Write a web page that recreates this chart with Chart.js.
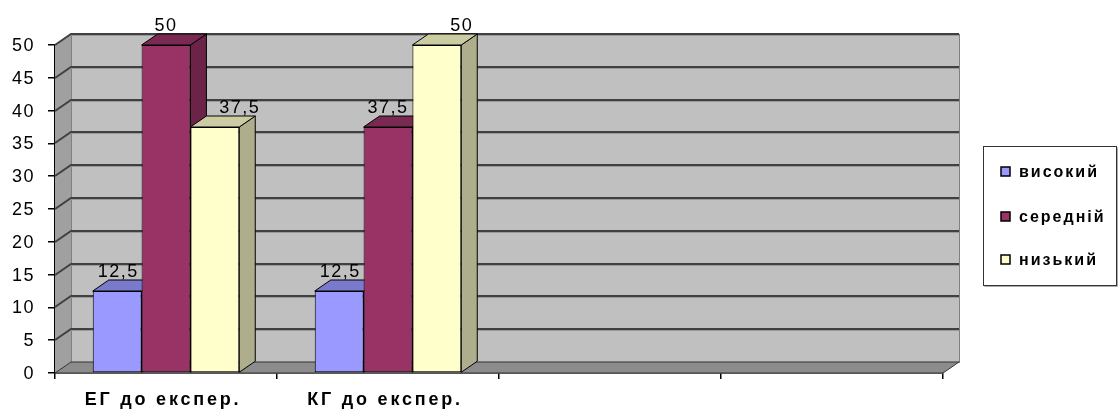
<!DOCTYPE html>
<html>
<head>
<meta charset="utf-8">
<script src="https://cdn.jsdelivr.net/npm/chart.js@4"></script>
<style>
html,body{margin:0;padding:0;background:#fff;}
#wrap{position:relative;width:1118px;height:410px;}
</style>
</head>
<body>
<div id="wrap"><canvas id="c" width="1118" height="410"></canvas></div>
<script>
const categories = ["ЕГ до експер.", "КГ до експер.", "", ""];
const seriesNames = ["високий", "середній", "низький"];
const vysokyi = [12.5, 12.5, null, null];
const serednii = [50, 37.5, null, null];
const nyzkyi = [37.5, 50, null, null];
const yTicks = [0, 5, 10, 15, 20, 25, 30, 35, 40, 45, 50];

const frontColors = ["#9999FF", "#993366", "#FFFFCC"];
const topColors = ["#7A7ACC", "#7A2952", "#CCCCA3"];
const sideColors = ["#6B6BB3", "#6B2447", "#AEAE8C"];
const labelShiftX = [1, 0, 25];

const DX = 16, DY = 11;
const FONT = "Arial, 'Liberation Sans', sans-serif";

const threeD = {
  id: 'threeD',
  beforeDatasetsDraw(chart) {
    const ctx = chart.ctx;
    const a = chart.chartArea;
    const y = chart.scales.y;
    ctx.save();
    ctx.fillStyle = "#A0A0A0";
    ctx.beginPath();
    ctx.moveTo(a.left, a.top); ctx.lineTo(a.left + DX, a.top - DY);
    ctx.lineTo(a.left + DX, a.bottom - DY); ctx.lineTo(a.left, a.bottom);
    ctx.closePath(); ctx.fill();
    ctx.fillStyle = "#C0C0C0";
    ctx.fillRect(a.left + DX, a.top - DY, a.right - a.left, a.bottom - a.top);
    ctx.strokeStyle = "#808080"; ctx.lineWidth = 1;
    ctx.strokeRect(a.left + DX + 0.5, a.top - DY + 0.5, a.right - a.left, a.bottom - a.top);
    ctx.fillStyle = "#8C8C8C";
    ctx.beginPath();
    ctx.moveTo(a.left, a.bottom); ctx.lineTo(a.left + DX, a.bottom - DY);
    ctx.lineTo(a.right + DX, a.bottom - DY); ctx.lineTo(a.right, a.bottom);
    ctx.closePath(); ctx.fill();
    ctx.strokeStyle = "#333"; ctx.stroke();
    yTicks.forEach(v => {
      if (v === 0) return;
      const py = Math.round(y.getPixelForValue(v));
      ctx.strokeStyle = "#404040"; ctx.lineWidth = 2;
      ctx.beginPath();
      ctx.moveTo(a.left, py);
      ctx.lineTo(a.left + DX, py - DY);
      ctx.lineTo(a.right + DX, py - DY);
      ctx.stroke();
      ctx.strokeStyle = "#9a9a9a"; ctx.lineWidth = 1;
      ctx.beginPath();
      ctx.moveTo(a.left + DX, py - DY + 1.5);
      ctx.lineTo(a.right + DX, py - DY + 1.5);
      ctx.stroke();
    });
    const n = chart.data.labels.length;
    for (let i = 0; i < n; i++) {
      chart.data.datasets.forEach((ds, di) => {
        const el = chart.getDatasetMeta(di).data[i];
        if (!el || ds.data[i] == null) return;
        const l = el.x - el.width / 2, r = el.x + el.width / 2, t = el.y, b = el.base;
        ctx.lineWidth = 1; ctx.strokeStyle = "#000";
        ctx.fillStyle = sideColors[di];
        ctx.beginPath();
        ctx.moveTo(r, t); ctx.lineTo(r + DX, t - DY); ctx.lineTo(r + DX, b - DY); ctx.lineTo(r, b);
        ctx.closePath(); ctx.fill(); ctx.stroke();
        ctx.fillStyle = topColors[di];
        ctx.beginPath();
        ctx.moveTo(l, t); ctx.lineTo(l + DX, t - DY); ctx.lineTo(r + DX, t - DY); ctx.lineTo(r, t);
        ctx.closePath(); ctx.fill(); ctx.stroke();
      });
    }
    ctx.restore();
  },
  afterDatasetsDraw(chart) {
    const ctx = chart.ctx;
    const xs = chart.scales.x, ys = chart.scales.y;
    ctx.save();
    ctx.fillStyle = "#000";
    ctx.font = "18px " + FONT;
    ctx.letterSpacing = "1.5px";
    ctx.textAlign = "center"; ctx.textBaseline = "middle";
    chart.data.datasets.forEach((ds, di) => {
      chart.getDatasetMeta(di).data.forEach((el, i) => {
        const v = ds.data[i];
        if (v == null) return;
        ctx.fillText(String(v).replace('.', ','), el.x + labelShiftX[di], el.y - DY - 8);
      });
    });
    ctx.font = "18px " + FONT;
    ctx.letterSpacing = "1.5px";
    ctx.textAlign = "right";
    yTicks.forEach(v => {
      ctx.fillText(String(v), 35, ys.getPixelForValue(v) + 1);
    });
    ctx.font = "bold 18px " + FONT;
    ctx.letterSpacing = "2.8px";
    ctx.textAlign = "center";
    categories.forEach((c, i) => {
      if (!c) return;
      ctx.fillText(c, xs.getPixelForValue(i) - 3, 400);
    });
    ctx.letterSpacing = "0px";
    const lx = 983, ly = 146, lw = 133, lh = 139;
    ctx.fillStyle = "#fff";
    ctx.fillRect(lx, ly, lw, lh);
    ctx.strokeStyle = "#333"; ctx.lineWidth = 1;
    ctx.strokeRect(lx + 0.5, ly + 0.5, lw, lh);
    ctx.strokeStyle = "#aaa";
    ctx.beginPath(); ctx.moveTo(lx + 1.5, ly + lh + 1.5); ctx.lineTo(lx + lw + 1.5, ly + lh + 1.5); ctx.lineTo(lx + lw + 1.5, ly + 1.5); ctx.stroke();
    const ly3 = [172, 217, 260];
    ctx.font = "bold 16px " + FONT;
    ctx.letterSpacing = "2px";
    ctx.textAlign = "left";
    seriesNames.forEach((name, k) => {
      ctx.fillStyle = frontColors[k];
      ctx.fillRect(1001, ly3[k] - 5, 9, 9);
      ctx.strokeStyle = "#000"; ctx.lineWidth = 1.5;
      ctx.strokeRect(1001, ly3[k] - 5, 9, 9);
      ctx.fillStyle = "#000";
      ctx.fillText(name, 1019, ly3[k] + 1);
    });
    ctx.restore();
  }
};

const data = {
  labels: categories,
  datasets: [
    { label: seriesNames[0], data: vysokyi, backgroundColor: frontColors[0] },
    { label: seriesNames[1], data: serednii, backgroundColor: frontColors[1] },
    { label: seriesNames[2], data: nyzkyi, backgroundColor: frontColors[2] }
  ].map(d => Object.assign(d, { borderColor: "#000", borderWidth: 1, borderSkipped: false,
    categoryPercentage: 0.66, barPercentage: 1.0 }))
};

new Chart(document.getElementById('c'), {
  type: 'bar',
  data,
  plugins: [threeD],
  options: {
    responsive: false,
    animation: false,
    events: [],
    layout: { padding: { top: 45, right: 175, left: 0, bottom: 0 } },
    plugins: { legend: { display: false }, tooltip: { enabled: false } },
    scales: {
      x: {
        afterFit(s) { s.height = 37; },
        grid: { offset: true, drawOnChartArea: false, drawTicks: true, tickLength: 6, color: "#000", lineWidth: 1.5 },
        border: { display: true, color: "#000", width: 1.5 },
        ticks: { display: false, autoSkip: false }
      },
      y: {
        min: 0, max: 50,
        afterFit(s) { s.width = 55; },
        afterBuildTicks(s) { s.ticks = yTicks.map(v => ({ value: v })); },
        grid: { drawOnChartArea: false, drawTicks: true, tickLength: 7, color: "#000", lineWidth: 1.5 },
        border: { display: true, color: "#000", width: 1.5 },
        ticks: { display: false }
      }
    }
  }
});
</script>
</body>
</html>
